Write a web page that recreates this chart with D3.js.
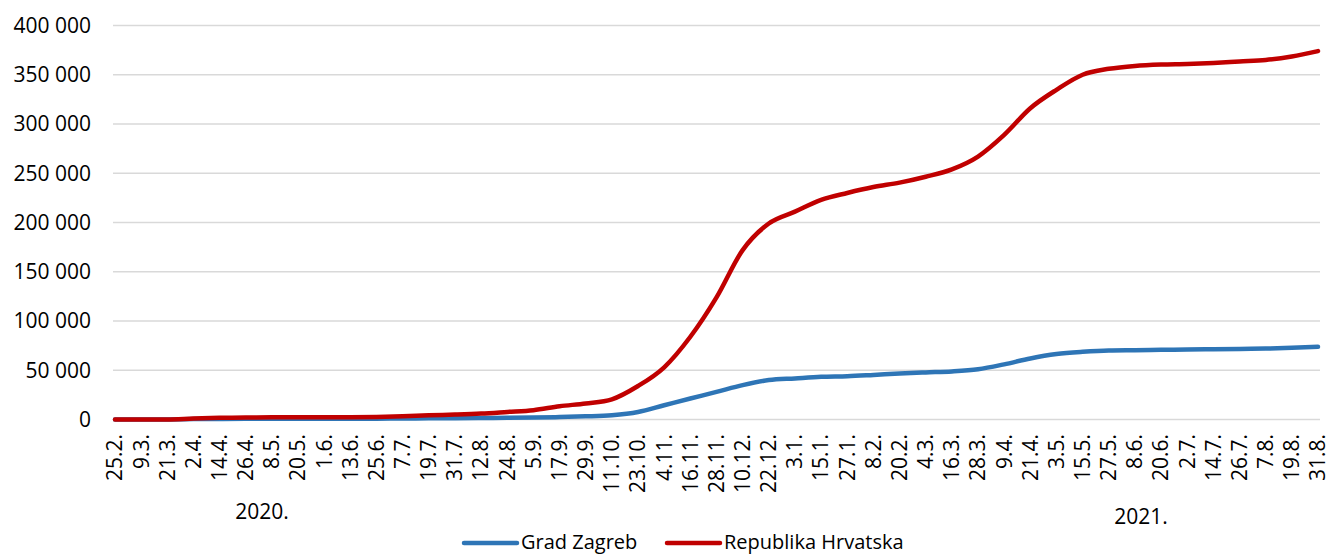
<!DOCTYPE html>
<html>
<head>
<meta charset="utf-8">
<script src="https://cdn.jsdelivr.net/npm/d3@7"></script>
<style>
  body { margin: 0; background: #fff; }
  text { font-family: "Open Sans", "Noto Sans", sans-serif; fill: #000; }
</style>
</head>
<body>
<svg id="chart" width="1330" height="555"></svg>
<script>
let dates = ["25.2.", "9.3.", "21.3.", "2.4.", "14.4.", "26.4.", "8.5.", "20.5.", "1.6.", "13.6.",
  "25.6.", "7.7.", "19.7.", "31.7.", "12.8.", "24.8.", "5.9.", "17.9.", "29.9.", "11.10.",
  "23.10.", "4.11.", "16.11.", "28.11.", "10.12.", "22.12.", "3.1.", "15.1.", "27.1.", "8.2.",
  "20.2.", "4.3.", "16.3.", "28.3.", "9.4.", "21.4.", "3.5.", "15.5.", "27.5.", "8.6.",
  "20.6.", "2.7.", "14.7.", "26.7.", "7.8.", "19.8.", "31.8."];

let zagreb = [0, 5, 60, 400, 600, 700, 730, 740, 740, 760,
  850, 1000, 1200, 1350, 1500, 1700, 2000, 2500, 3200, 4400,
  7700, 14500, 21300, 28000, 34900, 40000, 41700, 43300, 44000, 45300,
  46700, 47800, 48800, 51000, 56000, 62000, 66400, 68700, 70100, 70400,
  70700, 71100, 71300, 71700, 72000, 72800, 73800];

let hrvatska = [0, 12, 100, 1000, 1700, 2000, 2200, 2240, 2250, 2300,
  2600, 3200, 4300, 5000, 6000, 7700, 9500, 13500, 16300, 20500,
  34000, 53000, 84000, 124000, 172000, 199000, 211000, 223000, 230000, 236000,
  240500, 246500, 254000, 267000, 289000, 316000, 334700, 350000, 356000, 359000,
  360400, 361000, 362000, 363500, 365000, 368500, 374000];

let yTicks = [0, 50000, 100000, 150000, 200000, 250000, 300000, 350000, 400000];
let years = ["2020.", "2021."];
let seriesNames = ["Grad Zagreb", "Republika Hrvatska"];
let seriesColors = ["#2e75b6", "#c00000"];

let svg = d3.select("#chart");

let x = d3.scalePoint()
  .domain(dates)
  .range([115, 1318]);
let y = d3.scaleLinear()
  .domain([0, 400000])
  .range([419.5, 25.5]);

let fmt = function(d) { return d3.format(",")(d).replace(/,/g, " "); };

// gridlines
svg.append("g")
  .selectAll("line")
  .data(yTicks)
  .enter().append("line")
  .attr("x1", 113)
  .attr("x2", 1320)
  .attr("y1", function(d) { return y(d); })
  .attr("y2", function(d) { return y(d); })
  .attr("stroke", "#d9d9d9")
  .attr("stroke-width", 1.3);

// y labels
svg.append("g")
  .selectAll("text")
  .data(yTicks)
  .enter().append("text")
  .attr("x", 91)
  .attr("y", function(d) { return y(d); })
  .attr("dy", "0.35em")
  .style("font-size", "21px")
  .style("text-anchor", "end")
  .text(fmt);

// x labels
svg.append("g")
  .selectAll("text")
  .data(dates)
  .enter().append("text")
  .attr("transform", function(d) { return "translate(" + x(d) + ",434) rotate(-90)"; })
  .attr("dy", "0.35em")
  .style("font-size", "21px")
  .style("text-anchor", "end")
  .text(function(d) { return d; });

// years
let yearX = [262, 1141];
let yearY = [519, 524];
years.forEach(function(t, i) {
  svg.append("text")
    .attr("x", yearX[i]).attr("y", yearY[i])
    .style("font-size", "21px")
    .style("text-anchor", "middle")
    .text(t);
});

// lines
let line = d3.line()
  .x(function(d, i) { return x(dates[i]); })
  .y(function(d) { return y(d); })
  .curve(d3.curveMonotoneX);

[zagreb, hrvatska].forEach(function(s, i) {
  svg.append("path")
    .attr("d", line(s))
    .attr("fill", "none")
    .attr("stroke", seriesColors[i])
    .attr("stroke-width", 4.5)
    .attr("stroke-linecap", "round")
    .attr("stroke-linejoin", "round");
});

// legend
let legendX = [464, 667];
seriesNames.forEach(function(name, i) {
  svg.append("line")
    .attr("x1", legendX[i]).attr("x2", legendX[i] + 53)
    .attr("y1", 543).attr("y2", 543)
    .attr("stroke", seriesColors[i])
    .attr("stroke-width", 4.5)
    .attr("stroke-linecap", "round");
  svg.append("text")
    .attr("x", legendX[i] + 57).attr("y", 549)
    .style("font-size", "20px")
    .text(name);
});
</script>
</body>
</html>
